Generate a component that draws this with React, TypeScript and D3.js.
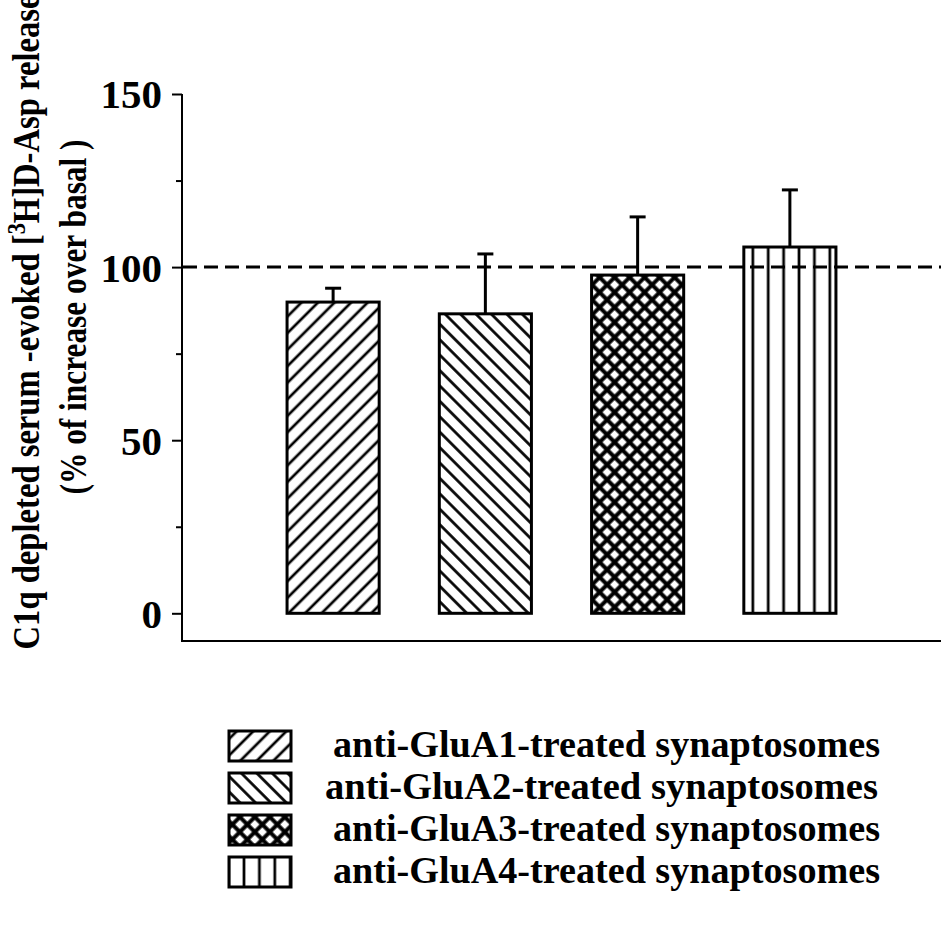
import { useEffect, useRef } from 'react'
import * as d3 from 'd3'

const categories = ['GluA1', 'GluA2', 'GluA3', 'GluA4']
const means = [89.9, 86.5, 97.7, 105.8]
const sems = [4.0, 17.3, 16.8, 16.5]
const patterns = ['fwd', 'back', 'cross', 'vert']
const legendLabels = [
  'anti-GluA1-treated synaptosomes',
  'anti-GluA2-treated synaptosomes',
  'anti-GluA3-treated synaptosomes',
  'anti-GluA4-treated synaptosomes',
]
const majorTicks = [0, 50, 100, 150]
const minorTicks = [25, 75, 125]
const baseline = 100

const W = 945
const H = 930
const FONT = '"Liberation Serif", "Times New Roman", serif'

export default function App() {
  const svgRef = useRef<SVGSVGElement>(null)

  useEffect(() => {
    document.body.style.margin = '0'
    if (!svgRef.current) return
    const svg = d3.select(svgRef.current)
    svg.selectAll('*').remove()

    const y = d3.scaleLinear().domain([-8, 150]).range([641, 94])
    const x = d3.scaleBand<string>()
      .domain(categories)
      .range([182, 941])
      .paddingInner(0.395)
      .paddingOuter(0.69)

    const defs = svg.append('defs')

    // hatch patterns, offset lets bars and legend boxes pick a phase
    const makePattern = (id: string, kind: string, ox: number) => {
      if (kind === 'fwd' || kind === 'back') {
        const s = kind === 'fwd' ? 11.7 : 10.9
        const p = defs.append('pattern')
          .attr('id', id)
          .attr('patternUnits', 'userSpaceOnUse')
          .attr('width', s).attr('height', s)
          .attr('patternTransform', `rotate(${kind === 'fwd' ? 45 : -45})`)
        p.append('line')
          .attr('x1', s / 2).attr('x2', s / 2).attr('y1', -1).attr('y2', s + 1)
          .attr('stroke', '#000').attr('stroke-width', 2.7)
      } else if (kind === 'cross') {
        const s = 10.6
        const p = defs.append('pattern')
          .attr('id', id)
          .attr('patternUnits', 'userSpaceOnUse')
          .attr('width', s).attr('height', s)
          .attr('patternTransform', 'rotate(45)')
        p.append('line')
          .attr('x1', s / 2).attr('x2', s / 2).attr('y1', -1).attr('y2', s + 1)
          .attr('stroke', '#000').attr('stroke-width', 4)
        p.append('line')
          .attr('y1', s / 2).attr('y2', s / 2).attr('x1', -1).attr('x2', s + 1)
          .attr('stroke', '#000').attr('stroke-width', 4)
      } else {
        const s = 15.4
        const p = defs.append('pattern')
          .attr('id', id)
          .attr('patternUnits', 'userSpaceOnUse')
          .attr('x', ox)
          .attr('width', s).attr('height', 20)
        p.append('line')
          .attr('x1', 0).attr('x2', 0).attr('y1', -1).attr('y2', 21)
          .attr('stroke', '#000').attr('stroke-width', 2.7)
        p.append('line')
          .attr('x1', s).attr('x2', s).attr('y1', -1).attr('y2', 21)
          .attr('stroke', '#000').attr('stroke-width', 2.7)
      }
    }

    categories.forEach((c, i) => {
      makePattern(`bar-${i}`, patterns[i], (x(c) as number) + 9)
    })

    // axes
    const yAxis = d3.axisLeft(y).tickValues(majorTicks).tickSize(10).tickPadding(10)
      .tickFormat(d3.format('d'))
    const gy = svg.append('g').attr('transform', 'translate(182,0)').call(yAxis)
    gy.select('.domain').remove()
    gy.selectAll('.tick line').attr('stroke', '#000').attr('stroke-width', 2)
    gy.selectAll('.tick text')
      .attr('font-family', FONT)
      .attr('font-weight', 'bold')
      .attr('font-size', 41)
      .attr('fill', '#000')
      .attr('dy', '0.34em')
    const gMinor = svg.append('g').attr('transform', 'translate(182,0)')
      .call(d3.axisLeft(y).tickValues(minorTicks).tickSize(6).tickFormat(() => ''))
    gMinor.select('.domain').remove()
    gMinor.selectAll('.tick line').attr('stroke', '#000').attr('stroke-width', 2)

    svg.append('line')
      .attr('x1', 182).attr('x2', 182)
      .attr('y1', y(150)).attr('y2', y(-8) + 1)
      .attr('stroke', '#000').attr('stroke-width', 2)
    svg.append('line')
      .attr('x1', 181).attr('x2', 941)
      .attr('y1', y(-8)).attr('y2', y(-8))
      .attr('stroke', '#000').attr('stroke-width', 2)

    // bars
    const bars = svg.append('g')
    categories.forEach((c, i) => {
      const bx = x(c) as number
      bars.append('rect')
        .attr('x', bx).attr('y', y(means[i]))
        .attr('width', x.bandwidth())
        .attr('height', y(0) - y(means[i]))
        .attr('fill', `url(#bar-${i})`)
        .attr('stroke', '#000')
        .attr('stroke-width', 3)
    })

    // dashed reference at 100%
    svg.append('line')
      .attr('x1', 183).attr('x2', 941)
      .attr('y1', y(baseline)).attr('y2', y(baseline))
      .attr('stroke', '#000').attr('stroke-width', 3)
      .attr('stroke-dasharray', '14 7')

    // error bars (upper only)
    categories.forEach((c, i) => {
      const cx = (x(c) as number) + x.bandwidth() / 2
      const top = y(means[i] + sems[i])
      svg.append('line')
        .attr('x1', cx).attr('x2', cx)
        .attr('y1', y(means[i])).attr('y2', top)
        .attr('stroke', '#000').attr('stroke-width', 3)
      svg.append('line')
        .attr('x1', cx - 8).attr('x2', cx + 8)
        .attr('y1', top).attr('y2', top)
        .attr('stroke', '#000').attr('stroke-width', 3)
    })

    // y label
    const l1 = svg.append('text')
      .attr('transform', 'translate(39,322) rotate(-90)')
      .attr('text-anchor', 'middle')
      .attr('font-family', FONT)
      .attr('font-weight', 'bold')
      .attr('font-size', 38)
      .attr('textLength', 655)
      .attr('lengthAdjust', 'spacingAndGlyphs')
    l1.append('tspan').text('C1q depleted serum -evoked [')
    l1.append('tspan').attr('dy', -14).attr('font-size', 26).text('3')
    l1.append('tspan').attr('dy', 14).text('H]D-Asp release')

    svg.append('text')
      .attr('transform', 'translate(86,317) rotate(-90)')
      .attr('text-anchor', 'middle')
      .attr('font-family', FONT)
      .attr('font-weight', 'bold')
      .attr('font-size', 38)
      .attr('textLength', 355)
      .attr('lengthAdjust', 'spacingAndGlyphs')
      .text('(% of increase over basal )')

    // legend
    const legendTop = [731, 773, 815, 857]
    legendLabels.forEach((lab, i) => {
      const ly = legendTop[i]
      makePattern(`leg-${i}`, patterns[i], 228 + 16)
      svg.append('rect')
        .attr('x', 229).attr('y', ly)
        .attr('width', 62).attr('height', 30)
        .attr('fill', `url(#leg-${i})`)
        .attr('stroke', '#000').attr('stroke-width', 3)
      svg.append('text')
        .attr('x', i === 1 ? 325 : 333)
        .attr('y', ly + 26)
        .attr('font-family', FONT)
        .attr('font-weight', 'bold')
        .attr('font-size', 37)
        .attr('textLength', i === 1 ? 553 : 547)
        .attr('lengthAdjust', 'spacingAndGlyphs')
        .text(lab)
    })
  }, [])

  return <svg ref={svgRef} width={W} height={H} style={{ display: 'block', background: '#fff' }} />
}
